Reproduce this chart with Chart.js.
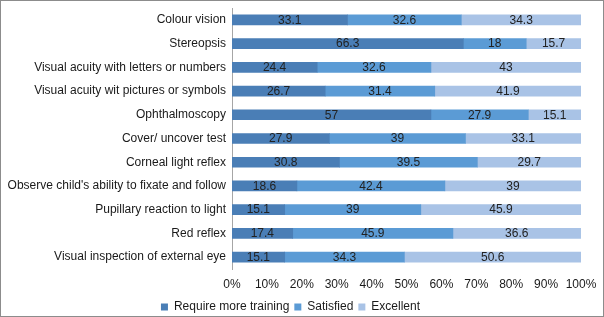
<!DOCTYPE html>
<html>
<head>
<meta charset="utf-8">
<script src="https://cdn.jsdelivr.net/npm/chart.js@4/dist/chart.umd.min.js"></script>
<style>
  html, body { margin: 0; padding: 0; background: #fff; }
  #wrap { width: 604px; height: 317px; position: relative; }
</style>
</head>
<body>
<div id="wrap"><canvas id="chart"></canvas></div>
<script>
// chart data
var categories = [
    "Colour vision",
    "Stereopsis",
    "Visual acuity with letters or numbers",
    "Visual acuity wit pictures or symbols",
    "Ophthalmoscopy",
    "Cover/ uncover test",
    "Corneal light reflex",
    "Observe child's ability to fixate and follow",
    "Pupillary reaction to light",
    "Red reflex",
    "Visual inspection of external eye"
];
var requireTraining = [33.1, 66.3, 24.4, 26.7, 57, 27.9, 30.8, 18.6, 15.1, 17.4, 15.1];
var satisfied = [32.6, 18, 32.6, 31.4, 27.9, 39, 39.5, 42.4, 39, 45.9, 34.3];
var excellent = [34.3, 15.7, 43, 41.9, 15.1, 33.1, 29.7, 39, 45.9, 36.6, 50.6];
var seriesNames = ["Require more training", "Satisfied", "Excellent"];

// numbers in the middle of each segment
var segmentLabels = {
    id: 'segmentLabels',
    afterDatasetsDraw: function(chart) {
        var ctx = chart.ctx;
        ctx.save();
        ctx.font = '12px "Liberation Sans", Arial, sans-serif';
        ctx.fillStyle = '#222';
        ctx.textAlign = 'center';
        ctx.textBaseline = 'middle';
        chart.data.datasets.forEach(function(ds, i) {
            chart.getDatasetMeta(i).data.forEach(function(bar, j) {
                var p = bar.getCenterPoint();
                ctx.fillText(String(ds.data[j]), p.x, p.y + 0.5);
            });
        });
        ctx.restore();
    }
};

// grey frame round the picture
var frame = {
    id: 'frame',
    afterDraw: function(chart) {
        var ctx = chart.ctx;
        ctx.save();
        ctx.strokeStyle = '#8c8c8c';
        ctx.lineWidth = 1;
        ctx.strokeRect(0.5, 0.5, chart.width - 1, chart.height - 1);
        ctx.restore();
    }
};

Chart.defaults.font.family = '"Liberation Sans", Arial, sans-serif';
Chart.defaults.font.size = 12;
Chart.defaults.color = '#1a1a1a';

var ctx = document.getElementById('chart').getContext('2d');
var myChart = new Chart(ctx, {
    type: 'bar',
    data: {
        labels: categories,
        datasets: [
            { label: seriesNames[0], data: requireTraining, backgroundColor: '#4a7eb6' },
            { label: seriesNames[1], data: satisfied, backgroundColor: '#5b9bd5' },
            { label: seriesNames[2], data: excellent, backgroundColor: '#a9c3e6' }
        ]
    },
    options: {
        indexAxis: 'y',
        responsive: true,
        maintainAspectRatio: false,
        animation: false,
        layout: { padding: { top: 8, right: 23, bottom: -6, left: 0 } },
        datasets: {
            bar: { barThickness: 10, categoryPercentage: 1 }
        },
        scales: {
            x: {
                stacked: true,
                min: 0,
                max: 100,
                afterFit: function(s) { s.height = 27; s.paddingRight = 0; },
                ticks: { stepSize: 10, maxRotation: 0, minRotation: 0, callback: function(v) { return v + '%'; }, padding: 8 },
                grid: { display: false, drawTicks: false },
                border: { display: false }
            },
            y: {
                stacked: true,
                afterFit: function(s) { s.width = 232; s.paddingTop = 0; s.paddingBottom = 0; },
                ticks: { padding: 6, autoSkip: false },
                grid: { display: false, drawTicks: false },
                border: { display: true, color: '#a6a6a6' }
            }
        },
        plugins: {
            legend: {
                position: 'bottom',
                labels: { boxWidth: 7, boxHeight: 7, padding: 5 }
            },
            tooltip: { enabled: false }
        }
    },
    plugins: [segmentLabels, frame]
});
</script>
</body>
</html>
